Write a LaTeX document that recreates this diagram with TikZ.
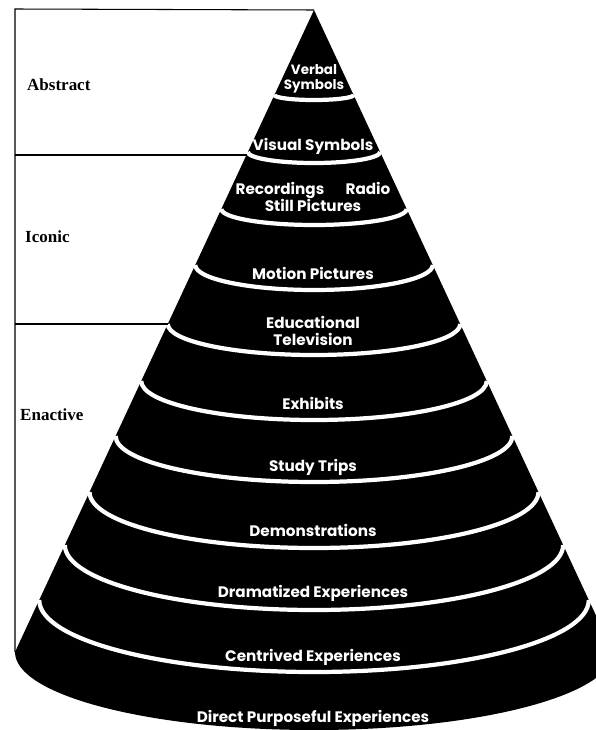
\documentclass[tikz,border=0pt]{standalone}
\usepackage{fontspec}
\setmainfont{Liberation Serif}
\newfontfamily\conefont{Poppins}
\usetikzlibrary{positioning}
\tikzset{
  stagelabel/.style={anchor=west, inner sep=0pt, font=\fontsize{14.5}{16}\selectfont\bfseries},
  bandlabel/.style={text=white, align=center, inner sep=0pt, font=\conefont\fontsize{13}{15}\selectfont\bfseries},
  bandline/.style={draw=white, line width=3.6pt},
  bracket/.style={draw=black, line width=0.9pt}
}

\begin{document}
\begin{tikzpicture}[x=0.03cm, y=0.03cm]
  \useasboundingbox (0,0) rectangle (596,-730);
  % cone corners
  \coordinate (apex) at (314,-10);
  \coordinate (baseleft) at (15,-652);
  \coordinate (topleft) at (15,-9);

  % the cone, cut off at the right edge
  \begin{scope}
    \clip (0,0) rectangle (596,-730);
    \fill[black] (apex) -- (baseleft) arc[start angle=180, end angle=360, x radius=299, y radius=78] -- cycle;
    \foreach \ye/\d in {95/5, 152/11, 209/16, 265/25, 324/31, 381/39, 436/46, 492/56, 545/65, 600/72} {
      \pgfmathsetmacro\xr{0.4657*(\ye-10)}
      \draw[bandline] ({314-\xr},-\ye) arc[start angle=180, end angle=360, x radius=\xr, y radius=\d];
    }
  \end{scope}

  % bracket on the left
  \coordinate (abstractend) at (246.5,-155);
  \coordinate (iconicend) at (168,-324);
  \draw[bracket] (apex) -- (topleft) -- (baseleft);
  \draw[bracket] (15,-155) -- (abstractend);
  \draw[bracket] (15,-324) -- (iconicend);

  \node[stagelabel] (abstract) at (27,-85) {Abstract};
  \node[stagelabel] (iconic) at (25,-237) {Iconic};
  \node[stagelabel] (enactive) at (20,-415) {Enactive};

  % band texts
  \node[bandlabel, font=\conefont\fontsize{11.5}{13}\selectfont\bfseries] (verbal) at (314,-79) {Verbal\\[0pt]Symbols};
  \node[bandlabel] (visual) at (313,-146) {Visual Symbols};
  \node[bandlabel] (recordings) at (313,-197) {Recordings\hspace{1.4em}Radio\\[-1pt]Still Pictures};
  \node[bandlabel] (motion) at (313,-273) {Motion Pictures};
  \node[bandlabel] (television) at (313,-331) {Educational\\[0pt]Television};
  \node[bandlabel] (exhibits) at (313,-403) {Exhibits};
  \node[bandlabel] (trips) at (313,-467) {Study Trips};
  \node[bandlabel] (demos) at (313,-530) {Demonstrations};
  \node[bandlabel] (dramatized) at (313,-593) {Dramatized Experiences};
  \node[bandlabel] (contrived) at (313,-657) {Centrived Experiences};
  \node[bandlabel] (direct) at (313,-718) {Direct Purposeful Experiences};
\end{tikzpicture}
\end{document}
